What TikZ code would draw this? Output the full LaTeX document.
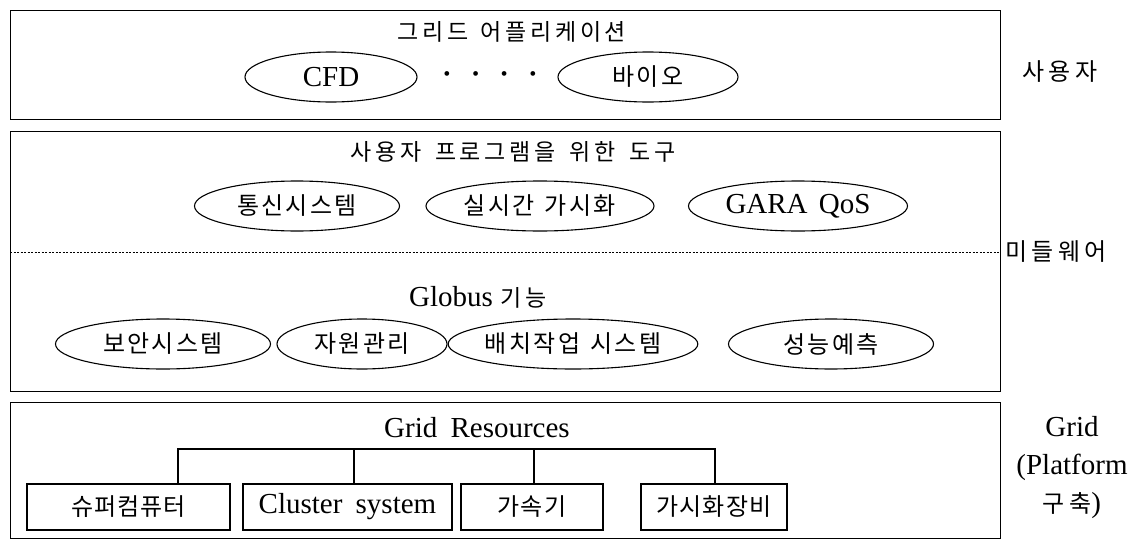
\documentclass[tikz,border=0pt]{standalone}
\usepackage{fontspec}
\setmainfont{Liberation Serif}
\newfontfamily\krunit[LetterSpace=4]{Noto Sans CJK KR}
\newfontfamily\kroval[LetterSpace=10]{Noto Sans CJK KR}
\newfontfamily\krtitle[LetterSpace=16]{Noto Sans CJK KR}
\newfontfamily\krside[LetterSpace=18]{Noto Sans CJK KR}
\usetikzlibrary{shapes.geometric}

\begin{document}
\begin{tikzpicture}[x=1pt,y=-1pt,
  layer/.style={draw, line width=1.1pt, inner sep=0pt, anchor=north west},
  oval/.style={draw, ellipse, line width=1.1pt, inner sep=0pt, minimum height=50pt,
    font=\fontsize{29}{32}\selectfont},
  unit/.style={draw, line width=1.1pt, inner sep=0pt, minimum height=46pt,
    font=\fontsize{29}{32}\selectfont},
  lbl/.style={inner sep=0pt, font=\fontsize{29}{32}\selectfont},
  kooval/.style={font=\fontsize{24}{28}\kroval},
  kounit/.style={font=\fontsize{24}{28}\krunit},
  kotitle/.style={font=\fontsize{23}{27}\krtitle},
  side/.style={inner sep=0pt, font=\fontsize{24}{28}\krside},
  link/.style={line width=1.1pt},
]
\useasboundingbox (0,0) rectangle (1144,541);

% ---- application layer ----
\node[layer, minimum width=990pt, minimum height=109pt] (app) at (10,10) {};
\node[lbl, kotitle] (apptitle) at (512,32) {그리드\hspace{12pt}어플리케이션};
\node[oval, minimum width=172pt] (cfd) at (331,77) {CFD};
\node[lbl, font=\bfseries\fontsize{29}{32}\selectfont] (dots) at (490,78)
  {·\hspace{19pt}·\hspace{19pt}·\hspace{19pt}·};
\node[oval, kooval, minimum width=180pt] (bio) at (648,77) {바이오};
\node[side] (user) at (1060,72) {사용자};

% ---- middleware layer ----
\node[layer, minimum width=990pt, minimum height=260pt] (mid) at (10,131) {};
\node[lbl, kotitle] (tooltitle) at (513,152) {사용자\hspace{14pt}프로그램을\hspace{14pt}위한\hspace{14pt}도구};
\node[oval, kooval, minimum width=205pt] (comm) at (297,206) {통신시스템};
\node[oval, kooval, minimum width=228pt] (rtvis) at (540,206) {실시간\hspace{10pt}가시화};
\node[oval, minimum width=219pt] (gara) at (798,206) {GARA\hspace{4pt} QoS};
\coordinate (sepL) at (10,252);
\coordinate (sepR) at (1000,252);
\draw[line width=0.8pt, dash pattern=on 2pt off 1.5pt] (sepL) -- (sepR);
\node[side, anchor=west] (midware) at (1005,252) {미들웨어};
\node[lbl] (globus) at (478,297) {Globus\hspace{8pt}{\fontsize{23}{27}\krtitle 기능}};
\node[oval, kooval, minimum width=215pt] (sec) at (163,344) {보안시스템};
\node[oval, kooval, minimum width=170pt] (rm) at (362,344) {자원관리};
\node[oval, kooval, minimum width=242pt] (batch) at (573,344) {배치작업\hspace{10pt}시스템};
\node[oval, kooval, minimum width=205pt] (perf) at (831,344) {성능예측};

% ---- resource layer ----
\node[layer, minimum width=990pt, minimum height=136pt] (res) at (10,402) {};
\node[lbl] (restitle) at (477,428) {Grid\hspace{6pt} Resources};
\node[unit, kounit, minimum width=203pt] (sc) at (128.5,507) {슈퍼컴퓨터};
\node[unit, minimum width=209pt] (cl) at (347.5,507) {Cluster\hspace{6pt} system};
\node[unit, kounit, minimum width=142pt] (acc) at (532,507) {가속기};
\node[unit, kounit, minimum width=146pt] (vis) at (714,507) {가시화장비};
\coordinate (bar1) at (178,449);
\coordinate (bar2) at (354,449);
\coordinate (bar3) at (534,449);
\coordinate (bar4) at (715,449);
\draw[link] (bar1 |- sc.north) -- (bar1) -- (bar4) -- (bar4 |- vis.north);
\draw[link] (bar2) -- (bar2 |- cl.north);
\draw[link] (bar3) -- (bar3 |- acc.north);
\node[lbl, align=center, font=\fontsize{29}{38}\selectfont] (platform) at (1072,468)
  {Grid\\(Platform\\{\fontsize{24}{28}\krside 구축})};
\end{tikzpicture}
\end{document}
